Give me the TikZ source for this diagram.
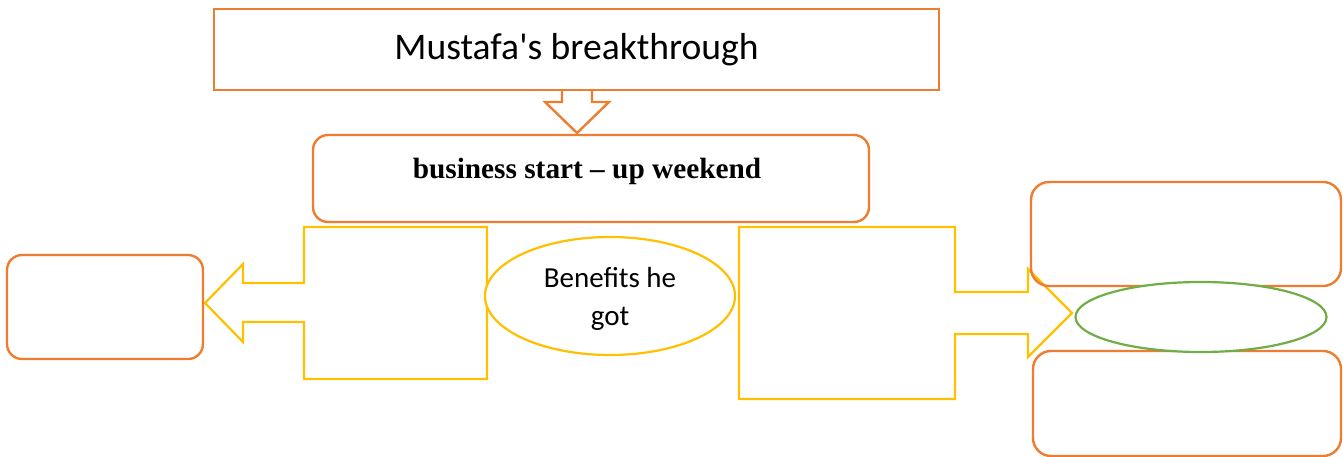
\documentclass[tikz,border=0pt]{standalone}
\usepackage{fontspec}
\setmainfont{Carlito}
\newfontfamily\timesfont{Liberation Serif}
\usepackage{tikz}
\usetikzlibrary{shapes.geometric}
\definecolor{orng}{HTML}{ED7D31}
\definecolor{gold}{HTML}{FFC000}
\definecolor{leaf}{HTML}{70AD47}
\tikzset{
  frame/.style={draw=orng, line width=2.4pt, rectangle, inner sep=0pt},
  rframe/.style={frame, rounded corners=15pt},
  callout/.style={draw=gold, line width=2.2pt, line join=miter},
  downarr/.style={draw=orng, line width=2.4pt, line join=miter},
  oval/.style={ellipse, inner sep=0pt, fill=white, line width=2.2pt},
  lab/.style={text=black, align=center},
}
\begin{document}
\begin{tikzpicture}[x=1pt,y=-1pt]
  \useasboundingbox (0,0) rectangle (1343,457);
  % heading and its arrow
  \node[frame, minimum width=725pt, minimum height=81pt,
        font=\fontsize{37.6}{42}\selectfont] (title) at (576.5,49.5) {Mustafa\textquotesingle s breakthrough};
  \draw[downarr] (562,90) -- (562,102) -- (545,102) -- (577,133) -- (609,102) -- (592,102) -- (592,90);
  \node[rframe, minimum width=556pt, minimum height=87pt] (weekend) at (591,178.5) {};
  \node[lab, font=\timesfont\bfseries\fontsize{29.3}{33}\selectfont] (weekendtxt) at (587,171) {business start – up weekend};
  % left side
  \draw[callout] (487,227) -- (487,379) -- (304,379) -- (304,322) -- (243,322) -- (243,342)
    -- (205,303) -- (243,264) -- (243,283) -- (304,283) -- (304,227) -- cycle;
  \node[rframe, minimum width=196pt, minimum height=104pt] (left) at (105,307) {};
  \node[oval, draw=gold, minimum width=250pt, minimum height=118pt] (benefits) at (610,296) {};
  \node[lab, font=\fontsize{29}{38}\selectfont] (benefitstxt) at (610,299) {Benefits he\\got};
  % right side
  \draw[callout] (739,227) -- (955,227) -- (955,292) -- (1028,292) -- (1028,269) -- (1072,313)
    -- (1028,357) -- (1028,334) -- (955,334) -- (955,399) -- (739,399) -- cycle;
  \node[rframe, minimum width=310pt, minimum height=104pt, rounded corners=18pt] (upper) at (1186,234) {};
  \node[rframe, minimum width=308pt, minimum height=105pt, rounded corners=18pt] (lower) at (1187,403.5) {};
  \node[oval, draw=leaf, minimum width=251pt, minimum height=70pt] (hub) at (1201,317) {};
\end{tikzpicture}
\end{document}
